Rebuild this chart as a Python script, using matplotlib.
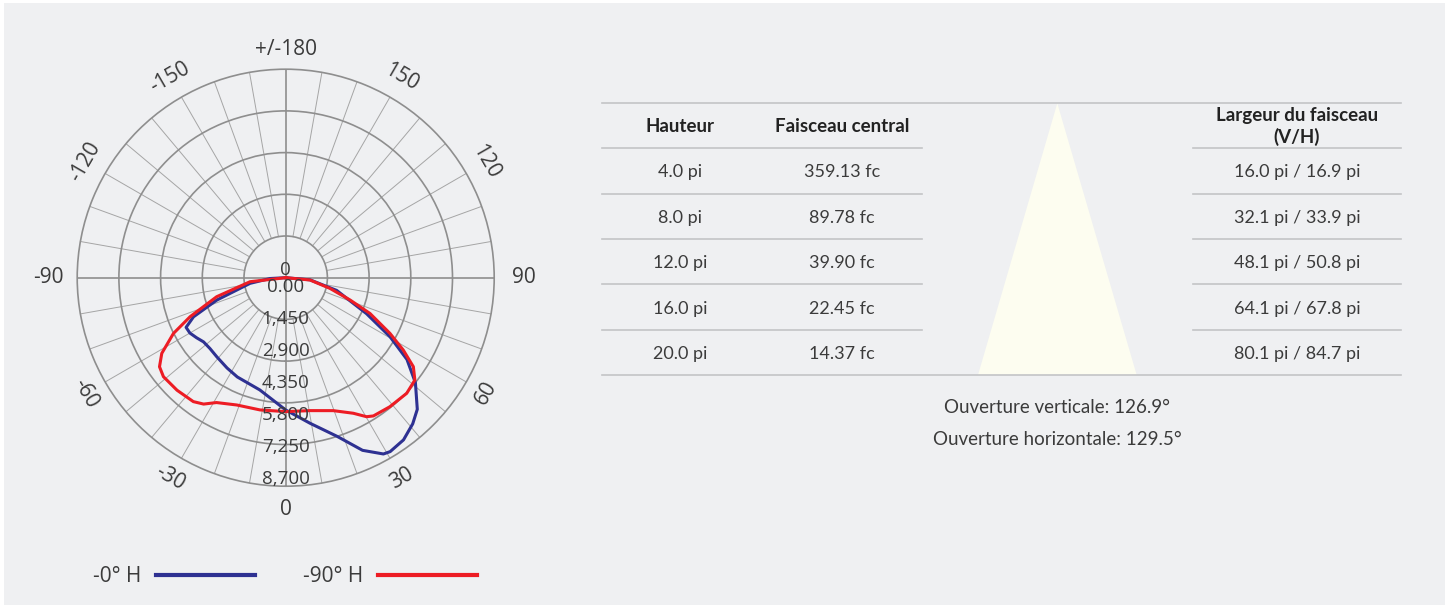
import numpy as np
import matplotlib.pyplot as plt
from matplotlib.patches import Rectangle, Polygon

# photometric curves (cd), angle 0 = straight down
angles_0h = [-90, -87, -81, -72, -67, -63.5, -60, -56, -52, -47, -41, -33, -26, -13, 0,
             9.5, 18, 24, 29, 31, 36, 41, 45, 51, 56, 60.5, 66, 76, 85, 90]
cd_0h = [0, 710, 1635, 3285, 4540, 5045, 5015, 4870, 4725, 4700, 4755, 4880, 5005, 5220, 5995,
         6690, 7565, 8565, 9135, 9195, 9085, 8775, 8435, 7565, 6630, 5430, 4010, 2380, 1105, 0]

angles_90h = [-90, -83.6, -74.6, -67.8, -63.6, -58.6, -54.8, -51, -44, -36.7, -33, -29, -21, -11, 0,
              10.4, 19.7, 26.5, 30.2, 32.4, 38.9, 46.3, 51.6, 55.1, 58.4, 61.9, 67, 70.9, 76.4, 84.6, 90]
cd_90h = [0, 1625, 3245, 4680, 5680, 6580, 7000, 7130, 7090, 7005, 6830, 6470, 6180, 6105, 6070,
          6125, 6400, 6865, 7290, 7420, 7515, 7585, 7470, 7055, 6255, 5355, 4150, 3085, 2065, 1105, 0]

series_labels = ["-0° H", "-90° H"]

angle_ticks = [0, 30, 60, 90, 120, 150, 180, -150, -120, -90, -60, -30]
angle_labels = ["0", "30", "60", "90", "120", "150", "+/-180", "-150", "-120", "-90", "-60", "-30"]
radial_ticks = [0, 1450, 2900, 4350, 5800, 7250, 8700]
radial_labels = ["0.00", "1,450", "2,900", "4,350", "5,800", "7,250", "8,700"]
r_max = 9450

# beam table
col_headers = ["Hauteur", "Faisceau central"]
width_header = ["Largeur du faisceau", "(V/H)"]
hauteur = ["4.0 pi", "8.0 pi", "12.0 pi", "16.0 pi", "20.0 pi"]
faisceau = ["359.13 fc", "89.78 fc", "39.90 fc", "22.45 fc", "14.37 fc"]
largeur = ["16.0 pi / 16.9 pi", "32.1 pi / 33.9 pi", "48.1 pi / 50.8 pi",
           "64.1 pi / 67.8 pi", "80.1 pi / 84.7 pi"]
ouvertures = ["Ouverture verticale: 126.9°", "Ouverture horizontale: 129.5°"]

W, H = 1447, 607
bg = "#eff0f2"
text_c = "#3b3b3b"
grid_c = "#8e8e8e"
spoke_c = "#a5a5a5"
line_c = "#c3c4c6"
blue = "#2e3192"
red = "#ed1c24"
polar_font = "Open Sans"
table_font = "Lato"

fig = plt.figure(figsize=(W / 100, H / 100), dpi=100, facecolor="white")

# overlay in pixel coordinates for background and table
ov = fig.add_axes([0, 0, 1, 1], zorder=0)
ov.set_xlim(0, W)
ov.set_ylim(H, 0)
ov.axis("off")
ov.add_patch(Rectangle((4, 3), W - 6, H - 5, color=bg, lw=0))

# polar diagram
cx, cy, R = 285.7, 277.7, 208.5
ax = fig.add_axes([(cx - R) / W, (H - cy - R) / H, 2 * R / W, 2 * R / H],
                  projection="polar", zorder=2)
ax.set_facecolor("none")
ax.set_theta_zero_location("S")
ax.set_theta_direction(1)
ax.set_ylim(0, r_max)
ax.set_xticks([])
ax.set_yticks([r_max * k / 5 for k in range(1, 5)])
ax.set_yticklabels([])
ax.yaxis.grid(True, color=grid_c, lw=1.2)
ax.spines["polar"].set_color(grid_c)
ax.spines["polar"].set_linewidth(1.2)

for a in range(0, 360, 10):
    t = np.radians(a)
    if a % 90 == 0:
        ax.plot([t, t], [0, r_max], color=grid_c, lw=1.2, zorder=1)
    else:
        ax.plot([t, t], [r_max / 5, r_max], color=spoke_c, lw=0.7, zorder=1)

ax.plot(np.radians(angles_0h), cd_0h, color=blue, lw=2.2, zorder=3, label=series_labels[0])
ax.plot(np.radians(angles_90h), cd_90h, color=red, lw=2.2, zorder=4, label=series_labels[1])

for a, lab in zip(angle_ticks, angle_labels):
    if a in (90, -90, 180):
        rot = 0
    elif abs(a) < 90:
        rot = a
    elif a > 0:
        rot = a - 180
    else:
        rot = a + 180
    r_lab = 1.14 if a in (90, -90) else (1.095 if a == 180 else 1.11)
    ax.text(np.radians(a), r_max * r_lab, lab, rotation=rot, rotation_mode="anchor",
            ha="center", va="center", fontsize=15, color=text_c, family=polar_font)

for v, lab in zip(radial_ticks, radial_labels):
    ax.text(0, v, lab, ha="center", va="top", fontsize=13.5, color=text_c,
            family=polar_font, zorder=5)
ax.text(np.pi, r_max * 0.035, "0", ha="center", va="center", fontsize=13.5,
        color=text_c, family=polar_font, zorder=5)

leg = ax.legend(loc="center left", bbox_to_anchor=(93 / W, 1 - 577 / H),
                bbox_transform=fig.transFigure, ncol=2, markerfirst=False, frameon=False,
                borderpad=0, borderaxespad=0, handlelength=4.75, handletextpad=0.7,
                columnspacing=2.3, prop={"family": polar_font, "size": 15})
for h in leg.legend_handles:
    h.set_linewidth(3)
for t in leg.get_texts():
    t.set_color(text_c)

# table
x0, x1 = 602, 1401
top_y, head_y, row_h = 103.3, 148.3, 45.35
col_x = [680, 842]
col3_x = 1297
left_end, right_start = 921.7, 1193

ov.plot([x0, x1], [top_y, top_y], color=line_c, lw=1.2)
ov.plot([x0, left_end], [head_y, head_y], color=line_c, lw=1.2)
ov.plot([right_start, x1], [head_y, head_y], color=line_c, lw=1.2)
for k in range(1, len(hauteur) + 1):
    y = head_y + row_h * k
    if k == len(hauteur):
        ov.plot([x0, x1], [y, y], color=line_c, lw=1.2)
    else:
        ov.plot([x0, left_end], [y, y], color=line_c, lw=1.2)
        ov.plot([right_start, x1], [y, y], color=line_c, lw=1.2)

bottom_y = head_y + row_h * len(hauteur)
ov.add_patch(Polygon([(1057.3, top_y), (978, bottom_y), (1136.7, bottom_y)],
                     closed=True, color="#fdfdf0", lw=0, zorder=1))

head_kw = dict(ha="center", va="baseline", fontsize=13.5, fontweight="bold",
               color="#222222", family=table_font)
for x, lab in zip(col_x, col_headers):
    ov.text(x, 132.5, lab, **head_kw)
ov.text(col3_x, 120.5, width_header[0], **head_kw)
ov.text(col3_x, 143, width_header[1], **head_kw)

cell_kw = dict(ha="center", va="baseline", fontsize=13, color=text_c, family=table_font)
for i in range(len(hauteur)):
    yb = head_y + row_h * (i + 0.5) + 6.5
    ov.text(col_x[0], yb, hauteur[i], **cell_kw)
    ov.text(col_x[1], yb, faisceau[i], **cell_kw)
    ov.text(col3_x, yb, largeur[i], **cell_kw)

for i, lab in enumerate(ouvertures):
    ov.text(1057.5, 413 + 31.6 * i, lab, ha="center", va="baseline", fontsize=13.5,
            color=text_c, family=table_font)

fig.savefig("out.png", dpi=100, facecolor="white")
